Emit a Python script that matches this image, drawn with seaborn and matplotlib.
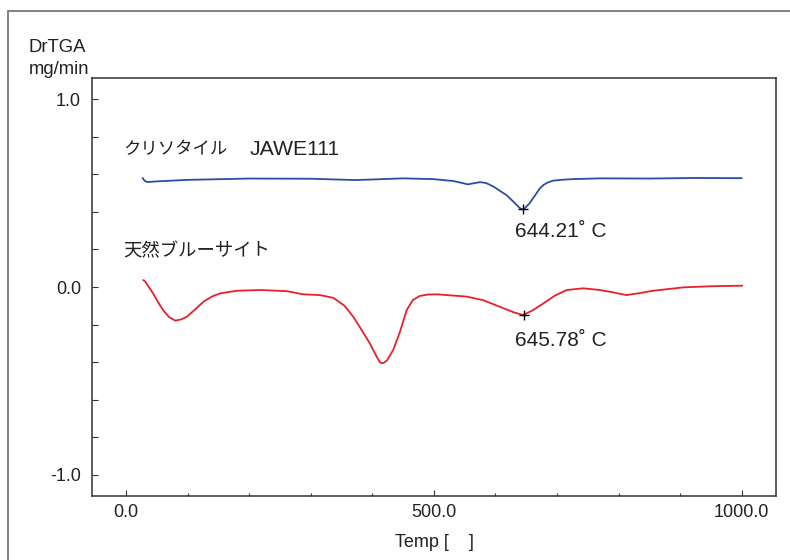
import matplotlib
matplotlib.use("Agg")
import matplotlib.pyplot as plt
import seaborn as sns
from matplotlib.lines import Line2D
from matplotlib.ticker import MultipleLocator, FixedLocator, FormatStrFormatter

# DrTGA curves (temp in deg C, rate in mg/min)
chrysotile_temp = [27, 30, 35, 50, 100, 200, 300, 372, 400, 450, 499, 531, 548, 555,
                   565, 575, 585, 597, 608, 618, 625, 632, 638, 641, 644, 647, 650, 656,
                   661, 667, 672, 678, 685, 694, 710, 726, 770, 850, 920, 1000]
chrysotile_rate = [0.580, 0.566, 0.558, 0.562, 0.570, 0.577, 0.576, 0.569, 0.572, 0.578,
                   0.574, 0.564, 0.552, 0.546, 0.552, 0.558, 0.553, 0.534, 0.510, 0.489,
                   0.467, 0.445, 0.425, 0.417, 0.413, 0.417, 0.427, 0.447, 0.472, 0.500,
                   0.524, 0.543, 0.556, 0.566, 0.571, 0.574, 0.578, 0.577, 0.580, 0.579]

brucite_temp = [28, 31, 44, 52, 60, 70, 80, 90, 99, 112, 126, 140, 153, 180, 218, 261,
                288, 315, 337, 355, 369, 383, 396, 407, 412, 415, 419, 424, 434, 445,
                456, 466, 477, 490, 505, 553, 580, 607, 630, 645, 660, 678, 697, 716,
                743, 770, 790, 813, 835, 856, 905, 950, 1001]
brucite_rate = [0.037, 0.030, -0.034, -0.080, -0.122, -0.160, -0.179, -0.172, -0.158,
                -0.120, -0.078, -0.050, -0.034, -0.020, -0.016, -0.022, -0.039, -0.043,
                -0.058, -0.100, -0.158, -0.230, -0.300, -0.370, -0.398, -0.406, -0.403,
                -0.390, -0.335, -0.238, -0.122, -0.069, -0.048, -0.040, -0.039, -0.051,
                -0.070, -0.105, -0.135, -0.149, -0.125, -0.087, -0.045, -0.016, -0.007,
                -0.016, -0.028, -0.043, -0.032, -0.020, -0.002, 0.004, 0.007]

peak_temp = [644.21, 645.78]
peak_rate = [0.413, -0.149]
peak_labels = ["644.21˚ C", "645.78˚ C"]
sample_names = ["クリソタイル", "天然ブルーサイト"]
sample_code = "JAWE111"

sns.set_style("ticks")
plt.rcParams["font.family"] = ["Liberation Sans", "Noto Sans CJK JP"]
plt.rcParams["axes.unicode_minus"] = False
ink = "#222222"

fig = plt.figure(figsize=(7.9, 5.6), dpi=100)
ax = fig.add_axes([92 / 790, 1 - 496 / 560, 684 / 790, 418 / 560])

sns.lineplot(x=chrysotile_temp, y=chrysotile_rate, ax=ax, color="#2d4ca6", lw=1.3, sort=False)
sns.lineplot(x=brucite_temp, y=brucite_rate, ax=ax, color="#e8202c", lw=1.3, sort=False)
ax.scatter(peak_temp, peak_rate, marker="+", color="black", s=60, linewidths=1, zorder=5)

ax.text(-5, 0.734, sample_names[0], fontsize=12.5, color=ink, va="center", ha="left")
ax.text(200, 0.734, sample_code, fontsize=15.3, color=ink, va="center", ha="left")
ax.text(-5, 0.186, sample_names[1], fontsize=13.2, color=ink, va="center", ha="left")
ax.text(632, 0.293, peak_labels[0], fontsize=15, color=ink, va="center", ha="left")
ax.text(632, -0.282, peak_labels[1], fontsize=15, color=ink, va="center", ha="left")

ax.set_xlim(-55.2, 1055.7)
ax.set_ylim(-1.112, 1.112)
ax.xaxis.set_major_locator(FixedLocator([0, 500, 1000]))
ax.xaxis.set_minor_locator(MultipleLocator(100))
ax.yaxis.set_major_locator(FixedLocator([-1.0, 0.0, 1.0]))
ax.yaxis.set_minor_locator(MultipleLocator(0.2))
ax.xaxis.set_major_formatter(FormatStrFormatter("%.1f"))
ax.yaxis.set_major_formatter(FormatStrFormatter("%.1f"))
ax.tick_params(axis="x", which="major", direction="in", length=4.5, width=0.8,
               color="#333333", labelsize=13, labelcolor=ink, pad=6)
ax.tick_params(axis="x", which="minor", direction="in", length=2.5, width=0.8, color="#333333")
ax.tick_params(axis="y", which="both", direction="in", length=4, width=0.8,
               color="#333333", labelsize=13, labelcolor=ink, pad=8)

for side in ax.spines.values():
    side.set_color("#333333")
    side.set_linewidth(1.1)

ax.set_xlabel("Temp [    ]", fontsize=13, color=ink, labelpad=9)
ax.set_ylabel("")
fig.text(29 / 790, 1 - 47 / 560, "DrTGA", fontsize=13.3, color=ink, ha="left", va="center")
fig.text(29 / 790, 1 - 70 / 560, "mg/min", fontsize=13.3, color=ink, ha="left", va="center")

# outer frame of the source figure
fig.add_artist(Line2D([8 / 790, 8 / 790], [0, 1 - 11 / 560], transform=fig.transFigure,
                      color="#777777", lw=1.3))
fig.add_artist(Line2D([8 / 790, 1], [1 - 11 / 560, 1 - 11 / 560], transform=fig.transFigure,
                      color="#777777", lw=1.3))

fig.savefig("out.png", dpi=100)
